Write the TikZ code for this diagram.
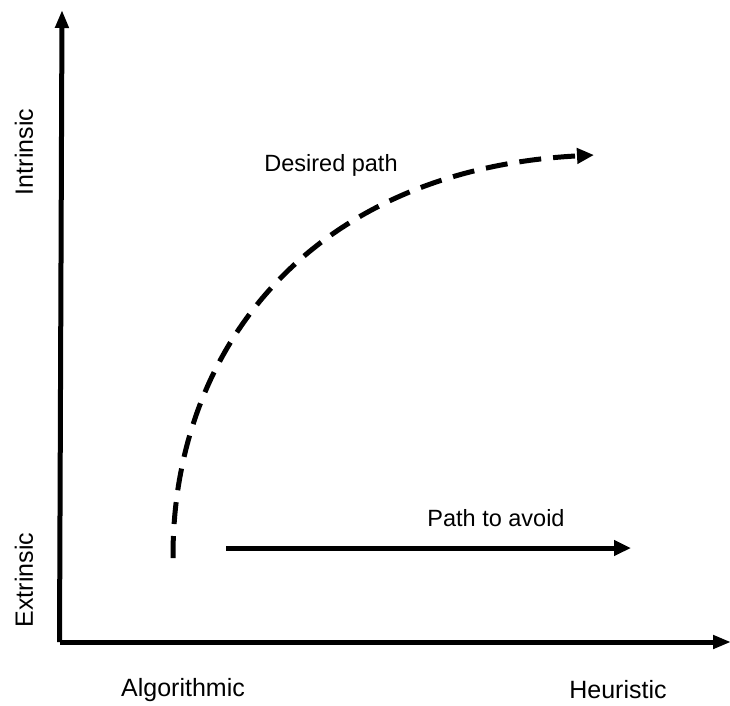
\documentclass[tikz,border=0pt]{standalone}
\usepackage{fontspec}
\setmainfont{Liberation Sans}
\usetikzlibrary{arrows.meta}
\begin{document}
\begin{tikzpicture}[x=1pt,y=-1pt,
		axis/.style={line width=5pt,-{Triangle[length=18pt,width=13pt]}},
		path line/.style={line width=5pt,-{Triangle[length=17pt,width=15pt]}}]
		\useasboundingbox (0,0) rectangle (730,705);
		\begin{scope}[every node/.style={inner sep=0pt,font=\fontsize{25}{28}\selectfont}]
			\node[rotate=90] (IN) at (24,152) {Intrinsic};
			\node[rotate=90] (EX) at (24,580) {Extrinsic};
			\node (AL) at (183,690) {Algorithmic};
			\node (HE) at (618,690) {Heuristic};
		\end{scope}
		\begin{scope}[every node/.style={inner sep=0pt,font=\fontsize{23.5}{27}\selectfont}]
			\node (DP) at (331,165) {Desired path};
			\node (PA) at (496,518) {Path to avoid};
		\end{scope}
		
		\coordinate (O) at (62,642);
		\coordinate (YT) at (62,10);
		\coordinate (XT) at (731,642);
		\coordinate (DS) at (173,558);
		\coordinate (DE) at (594,155);
		\coordinate (AS) at (226,548);
		\coordinate (AE) at (631,548);
		
		\draw [axis] ([xshift=-2.5pt]O) -- (YT);
		\draw [axis] ([xshift=-2.5pt]O) -- (XT);
		\draw [path line] (AS) -- (AE);
		\draw [path line,dash pattern=on 22pt off 12pt] (DS) .. controls (172,350) and (310,170) .. (DE);
		\end{tikzpicture}
\end{document}
